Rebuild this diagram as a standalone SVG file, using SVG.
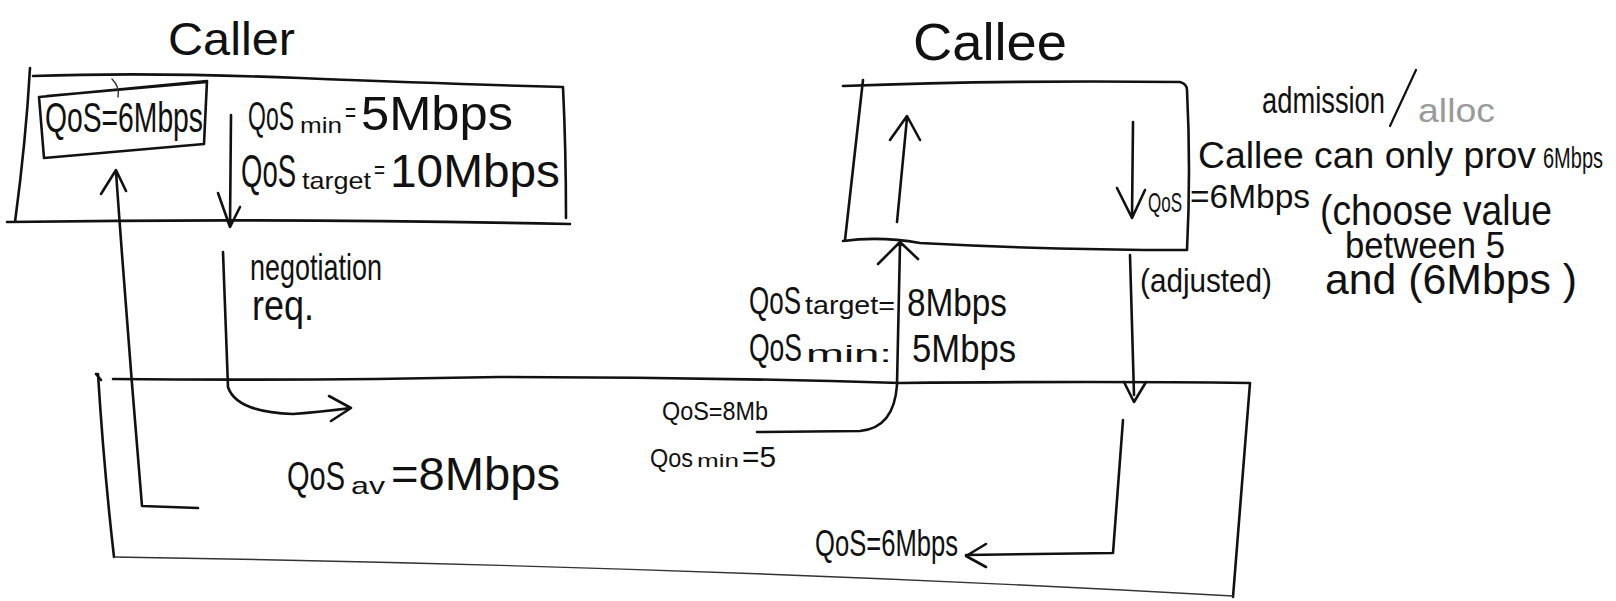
<svg xmlns="http://www.w3.org/2000/svg" width="1616" height="601" viewBox="0 0 1616 601">
<style>
.ln{fill:none;stroke:#111;stroke-width:2.6;stroke-linecap:round;stroke-linejoin:round}
.thin{fill:none;stroke:#333;stroke-width:1.4;stroke-linecap:round}
text{font-family:"Liberation Sans",Arial,sans-serif;fill:#111}
.gray{fill:#9a9a9a}
</style>
<rect width="1616" height="601" fill="#fff"/>

<g id="caller">
  <text x="168" y="55" font-size="46" textLength="127" lengthAdjust="spacingAndGlyphs">Caller</text>
  <path class="ln" d="M30,68 Q26,140 15,222 M33,76 Q150,72 300,78 T563,87 Q566,150 566,218 M7,222 Q280,218 570,224"/>
  <text y="130" font-size="40" lengthAdjust="spacingAndGlyphs"><tspan x="248" textLength="46" lengthAdjust="spacingAndGlyphs">QoS</tspan><tspan x="300" y="133" font-size="22" textLength="42" lengthAdjust="spacingAndGlyphs">min</tspan><tspan x="345" y="122" font-size="28" textLength="11" lengthAdjust="spacingAndGlyphs">=</tspan><tspan x="361" y="130" font-size="48" textLength="152" lengthAdjust="spacingAndGlyphs">5Mbps</tspan></text>
  <text y="187" font-size="46"><tspan x="241" textLength="55" lengthAdjust="spacingAndGlyphs">QoS</tspan><tspan x="302" y="189" font-size="24" textLength="69" lengthAdjust="spacingAndGlyphs">target</tspan><tspan x="374" y="178" font-size="26" textLength="11" lengthAdjust="spacingAndGlyphs">=</tspan><tspan x="390" y="187" font-size="46" textLength="170" lengthAdjust="spacingAndGlyphs">10Mbps</tspan></text>
</g>

<g id="caller-qos">
  <path class="ln" d="M39,97 L44,158 L204,144 L207,81 Z M47,96 L207,82"/>
  <path class="thin" d="M112,79 Q120,87 118,97"/>
  <text x="45" y="132" font-size="42" textLength="158" lengthAdjust="spacingAndGlyphs">QoS=6Mbps</text>
</g>

<g id="callee">
  <text x="913" y="60" font-size="52" textLength="154" lengthAdjust="spacingAndGlyphs">Callee</text>
  <path class="ln" d="M843,86 Q1000,80 1180,82 Q1187,84 1187,90 Q1191,170 1187,250 M863,80 L845,240 M843,241 Q880,236 920,243 Q1050,250 1187,250"/>
  <text x="1148" y="212" font-size="28" textLength="34" lengthAdjust="spacingAndGlyphs">QoS</text>
</g>

<g id="network">
  <path class="ln" d="M96,374 L101,380 M113,379 Q300,381 500,377 Q700,377 900,383 Q1100,381 1250,383 L1233,597"/>
  <path class="ln" d="M98,374 Q104,470 114,557"/>
  <path class="thin" d="M114,557 Q700,566 1233,596"/>
</g>

<g id="labels">
  <text x="250" y="280" font-size="36" textLength="132" lengthAdjust="spacingAndGlyphs">negotiation</text>
  <text x="252" y="320" font-size="42" textLength="62" lengthAdjust="spacingAndGlyphs">req.</text>
  <text y="490" font-size="40"><tspan x="287" textLength="58" lengthAdjust="spacingAndGlyphs">QoS</tspan><tspan x="351" y="494" font-size="24" textLength="34" lengthAdjust="spacingAndGlyphs">av</tspan><tspan x="391" y="490" font-size="46" textLength="169" lengthAdjust="spacingAndGlyphs">=8Mbps</tspan></text>
  <text y="314" font-size="38"><tspan x="749" textLength="52" lengthAdjust="spacingAndGlyphs">QoS</tspan><tspan x="805" font-size="26" textLength="90" lengthAdjust="spacingAndGlyphs">target=</tspan><tspan x="907" y="316" textLength="100" lengthAdjust="spacingAndGlyphs">8Mbps</tspan></text>
  <text y="361" font-size="38"><tspan x="749" textLength="53" lengthAdjust="spacingAndGlyphs">QoS</tspan><tspan x="806" y="362" font-size="24" textLength="86" lengthAdjust="spacingAndGlyphs">min:</tspan><tspan x="912" y="362" textLength="104" lengthAdjust="spacingAndGlyphs">5Mbps</tspan></text>
  <text x="662" y="420" font-size="26" textLength="106" lengthAdjust="spacingAndGlyphs">QoS=8Mb</text>
  <text y="467" font-size="26"><tspan x="650" textLength="43" lengthAdjust="spacingAndGlyphs">Qos</tspan><tspan x="697" font-size="18" textLength="42" lengthAdjust="spacingAndGlyphs">min</tspan><tspan x="742" font-size="30" textLength="34" lengthAdjust="spacingAndGlyphs">=5</tspan></text>
  <text x="815" y="556" font-size="36" textLength="143" lengthAdjust="spacingAndGlyphs">QoS=6Mbps</text>
  <text x="1190" y="208" font-size="34" textLength="120" lengthAdjust="spacingAndGlyphs">=6Mbps</text>
  <text x="1140" y="292" font-size="34" textLength="132" lengthAdjust="spacingAndGlyphs">(adjusted)</text>
  <text x="1262" y="113" font-size="36" textLength="123" lengthAdjust="spacingAndGlyphs">admission</text>
  <path class="ln" d="M1416,70 L1390,126" style="stroke-width:2.2"/>
  <text x="1418" y="122" font-size="34" textLength="77" lengthAdjust="spacingAndGlyphs" class="gray">alloc</text>
  <text x="1198" y="168" font-size="36" textLength="338" lengthAdjust="spacingAndGlyphs">Callee can only prov</text>
  <text transform="translate(1543,168) scale(1,1.45)" font-size="20" textLength="60" lengthAdjust="spacingAndGlyphs">6Mbps</text>
  <text x="1320" y="225" font-size="42" textLength="232" lengthAdjust="spacingAndGlyphs">(choose value</text>
  <text x="1345" y="258" font-size="36" textLength="160" lengthAdjust="spacingAndGlyphs">between 5</text>
  <text x="1325" y="294" font-size="42" textLength="252" lengthAdjust="spacingAndGlyphs">and (6Mbps )</text>
</g>

<g id="connectors">
  <path class="ln" d="M231,115 L230,227 M218,193 L230,227 L240,207"/>
  <path class="ln" d="M223,252 L228,387 Q236,412 293,414 Q320,412 351,408 M329,396 L351,408 L331,421"/>
  <path class="ln" d="M116,172 Q128,340 142,506 L198,508 M101,194 L116,170 L126,191"/>
  <path class="ln" d="M757,432 L860,431 Q894,428 897,385 L900,244 M878,264 L900,242 L918,259"/>
  <path class="ln" d="M897,222 L907,118 M890,140 L907,116 L920,140"/>
  <path class="ln" d="M1133,122 L1132,218 M1117,188 L1132,218 L1145,190"/>
  <path class="ln" d="M1130,255 L1134,395 M1124,382 L1134,402 L1146,382"/>
  <path class="ln" d="M1123,420 L1113,553 L966,555 M986,544 L966,556 L986,567"/>
</g>
</svg>
